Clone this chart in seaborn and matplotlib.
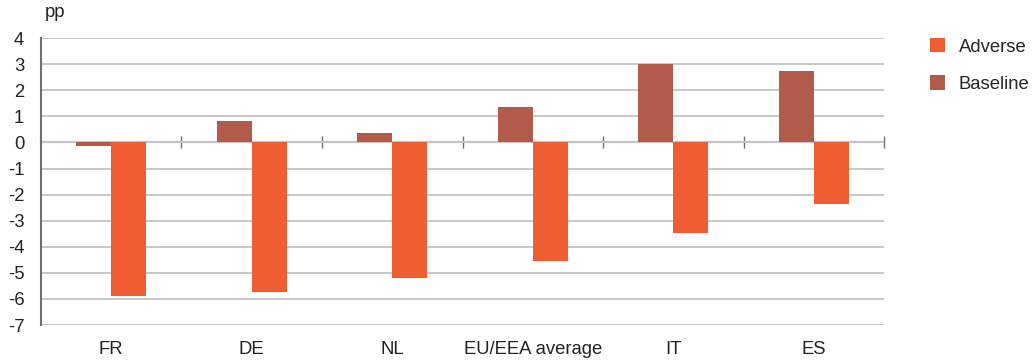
import pandas as pd
import seaborn as sns
import matplotlib.pyplot as plt

countries = ["FR", "DE", "NL", "EU/EEA average", "IT", "ES"]
baseline = [-0.15, 0.83, 0.37, 1.36, 3.0, 2.75]
adverse = [-5.88, -5.72, -5.2, -4.55, -3.47, -2.35]

df = pd.DataFrame({
    "country": countries * 2,
    "scenario": ["Baseline"] * len(countries) + ["Adverse"] * len(countries),
    "value": baseline + adverse,
})

colors = {"Adverse": "#F15D33", "Baseline": "#B35B4B"}

sns.set_style("white")
plt.rcParams["font.family"] = ["Liberation Sans", "DejaVu Sans"]
plt.rcParams["font.size"] = 13.3
plt.rcParams["axes.unicode_minus"] = False

fig = plt.figure(figsize=(10.32, 3.6), dpi=100)
ax = fig.add_axes([0.0397, 0.097, 0.817, 0.797])

sns.barplot(data=df, x="country", y="value", hue="scenario",
            hue_order=["Baseline", "Adverse"], palette=colors,
            width=0.5, linewidth=0, saturation=1, ax=ax, legend=True)

ax.set_ylim(-7, 4)
ax.set_xlim(-0.5, len(countries) - 0.5)
ax.set_yticks(range(-7, 5))
ax.yaxis.grid(True, color="#c8c8c8", linewidth=1.4)
ax.set_axisbelow(True)
for s in ["top", "right", "bottom"]:
    ax.spines[s].set_visible(False)
ax.spines["left"].set_color("#707070")
ax.spines["left"].set_linewidth(1.5)
ax.tick_params(axis="y", length=0, pad=12, labelcolor="#222222", labelsize=13.3)
ax.tick_params(axis="x", length=0, pad=11.5, labelcolor="#222222", labelsize=13.3)
ax.set_xlabel("")
ax.set_ylabel("")

# zero line with category separators
zero = ax.secondary_xaxis(0, transform=ax.transData)
zero.spines["bottom"].set_color("#707070")
zero.spines["bottom"].set_linewidth(1.5)
zero.set_xticks([i + 0.5 for i in range(len(countries))])
zero.set_xticklabels([])
zero.tick_params(axis="x", direction="inout", length=9, width=1, color="#707070")

ax.text(0.004, 1.06, "pp", transform=ax.transAxes, fontsize=13.3, color="#222222",
        ha="left", va="bottom")

handles, labels = ax.get_legend_handles_labels()
ax.get_legend().remove()
order = [labels.index("Adverse"), labels.index("Baseline")]
fig.legend([handles[i] for i in order], [labels[i] for i in order],
           loc="upper left", bbox_to_anchor=(0.885, 0.94), frameon=False,
           handlelength=0.8, handleheight=0.8, labelspacing=1.07,
           handletextpad=0.75, fontsize=13.3)

fig.savefig("out.png", dpi=100)
